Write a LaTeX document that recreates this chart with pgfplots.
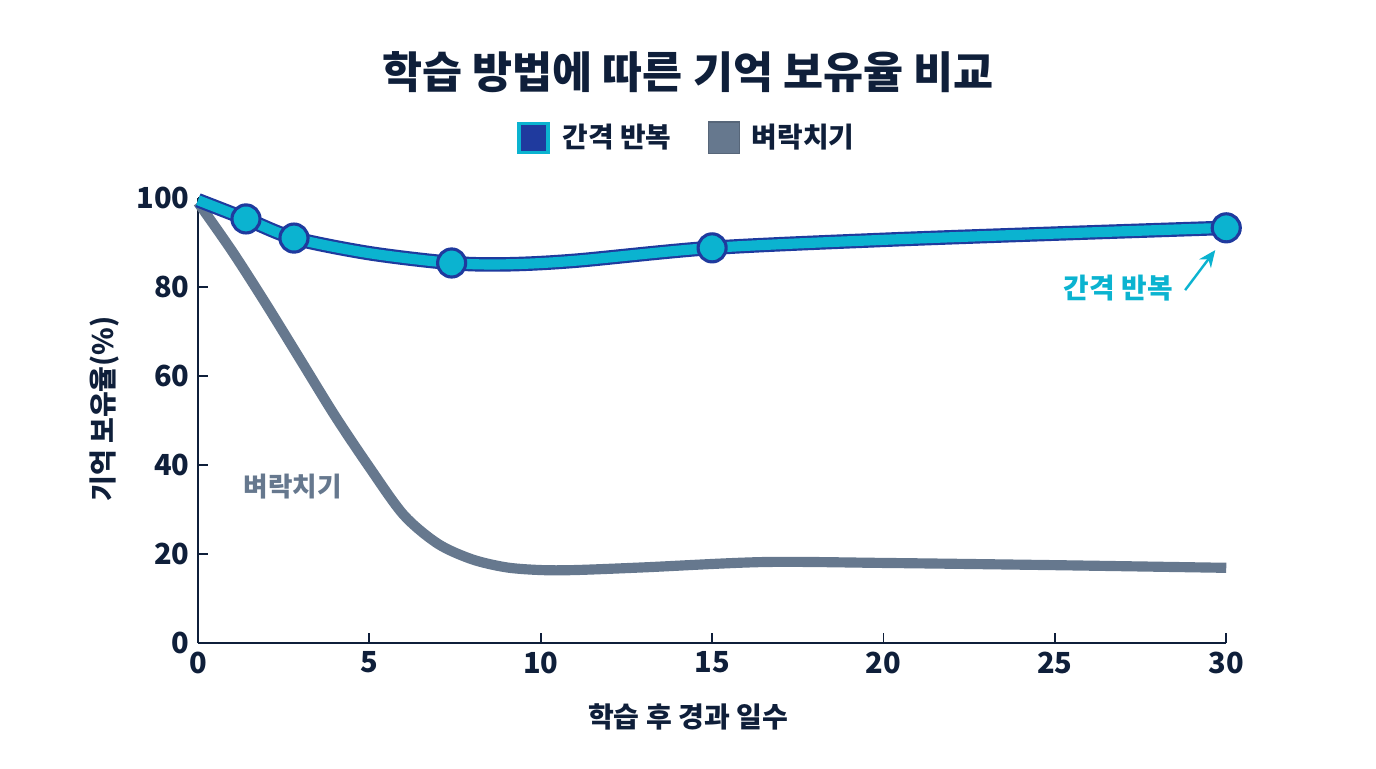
\documentclass[border=0pt]{standalone}
\usepackage{pgfplots}
\pgfplotsset{compat=1.18}
\usetikzlibrary{arrows.meta}
\usepackage{fontspec}
\setmainfont{Noto Sans CJK KR}
\definecolor{navy}{HTML}{0F1F3A}
\definecolor{cyanl}{HTML}{0BB3D0}
\definecolor{dblue}{HTML}{1F3A9E}
\definecolor{slate}{HTML}{66788E}
\pgfplotstableread{
x y
0 99.5
1.4 95.3
2.8 91.0
5 87.6
7.4 85.4
9 85.1
11 85.9
15 88.8
20 90.6
25 92.0
30 93.3
}\spaced
\pgfplotstableread{
x y
0 99
1 88
2 76
3 63.5
4 51
5 39.5
6 28.8
7 22.3
8 18.8
9 17.0
10 16.4
11 16.4
13 17.0
16.5 18.2
20 18.0
25 17.5
30 16.9
}\cram
\begin{document}
\begin{tikzpicture}
\path[use as bounding box] (0,0) rectangle (19.993cm,-11.159cm);
\node[font=\bfseries\fontsize{18}{21}\selectfont, text=navy] at (9.997cm,-1.046cm) {학습 방법에 따른 기억 보유율 비교};
\begin{axis}[
  at={(2.877cm,-9.343cm)}, anchor=south west,
  scale only axis, width=14.94cm, height=6.466cm,
  xmin=0, xmax=30, ymin=0, ymax=100,
  xtick={0,5,...,30}, ytick={0,20,...,100},
  axis lines=left,
  axis line style={-, navy, line width=0.8pt},
  tick align=inside,
  tick style={navy, line width=0.8pt},
  major tick length=4pt,
  clip=false,
  /pgf/number format/assume math mode=true,
  ticklabel style={font=\bfseries\fontsize{12}{14}\selectfont, text=navy},
  xlabel={학습 후 경과 일수},
  ylabel={기억 보유율(\%)},
  label style={font=\bfseries\fontsize{11.6}{13}\selectfont, text=navy},
  xlabel style={at={(axis description cs:0.4767,-0.166)}, anchor=center},
  ylabel style={at={(axis description cs:-0.0905,0.526)}, anchor=center},
  legend columns=2,
  legend style={at={(axis description cs:0.4767,1.135)}, anchor=center, draw=none, fill=none,
    font=\bfseries\fontsize{11.5}{13}\selectfont, text=navy,
    /tikz/every even column/.append style={column sep=13pt}},
  legend cell align=left,
]
\addplot[slate, line width=4.2pt, smooth, forget plot] table {\cram};
\addplot[dblue, line width=6pt, smooth, forget plot] table {\spaced};
\addplot[cyanl, line width=4.2pt, smooth,
  legend image code/.code={\path[draw=none,fill=none] (0pt,0pt) -- (16pt,0pt);\draw[draw=cyanl, fill=dblue, line width=1.4pt] (0pt,-6pt) rectangle (12pt,6pt);}]
  table {\spaced};
\addlegendentry{간격 반복}
\addplot[only marks, mark=*, mark size=5.8pt, mark options={fill=cyanl, draw=dblue, line width=1.3pt}, forget plot]
  coordinates {(1.4,95.3) (2.8,91.0) (7.4,85.4) (15,88.8) (30,93.3)};
\addlegendimage{legend image code/.code={\path[draw=none,fill=none] (0pt,0pt) -- (16pt,0pt);\draw[draw=slate!85!black, fill=slate, line width=0.6pt] (0pt,-6.5pt) rectangle (13pt,6.5pt);}}
\addlegendentry{벼락치기}
\node[text=cyanl, font=\bfseries\fontsize{11.5}{13}\selectfont] at (axis cs:26.85,79.8) {간격 반복};
\draw[cyanl, line width=1pt, -{Stealth[length=7pt,width=6pt]}] (axis cs:28.8,79.3) -- (axis cs:29.68,88.3);
\node[text=slate, font=\bfseries\fontsize{11}{13}\selectfont] at (axis cs:2.77,35.1) {벼락치기};
\end{axis}
\end{tikzpicture}
\end{document}
